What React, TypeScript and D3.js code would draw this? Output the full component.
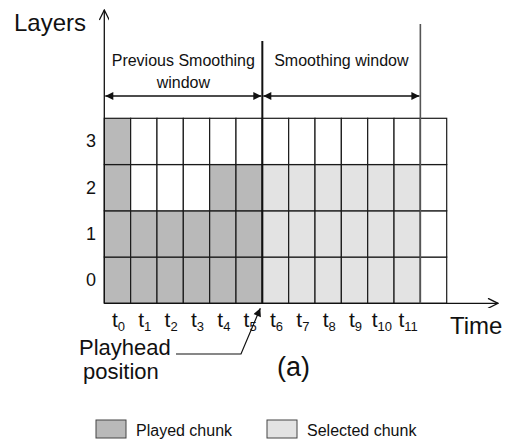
import React from "react";
import * as d3 from "d3";

const timeSlots = ["0", "1", "2", "3", "4", "5", "6", "7", "8", "9", "10", "11"];
const columns = [...timeSlots, "extra"];
const layers = ["0", "1", "2", "3"];
// highest layer played for t0..t5
const playedTop = [3, 1, 1, 1, 2, 2];
// highest layer selected for t6..t11
const selectedTop = [2, 2, 2, 2, 2, 2];
const prevWindow = ["0", "5"];
const smoothWindow = ["6", "11"];
const legendItems = ["Played chunk", "Selected chunk"];

const W = 510;
const H = 441;
const PLAYED = "#b9b9b9";
const SELECTED = "#e3e3e3";
const FONT = "'Liberation Sans', Arial, Helvetica, sans-serif";

export default function App() {
  const x = d3.scaleBand<string>().domain(columns).range([104.3, 446.7]).paddingInner(0);
  const y = d3.scaleBand<string>().domain(layers).range([303.3, 118.3]).paddingInner(0);
  const bw = x.bandwidth();
  const bh = y.bandwidth();
  const gridLeft = x.range()[0];
  const gridBottom = y.range()[0];

  const cells: { c: string; l: string; fill: string }[] = [];
  columns.forEach((c, ci) => {
    layers.forEach((l, li) => {
      let fill = "#ffffff";
      if (ci < playedTop.length && li <= playedTop[ci]) fill = PLAYED;
      const si = ci - playedTop.length;
      if (si >= 0 && si < selectedTop.length && li <= selectedTop[si]) fill = SELECTED;
      cells.push({ c, l, fill });
    });
  });

  const pwL = x(prevWindow[0])!;
  const pwR = x(prevWindow[1])! + bw;
  const swL = x(smoothWindow[0])!;
  const swR = x(smoothWindow[1])! + bw;
  const arrowY = 96;

  const leader = d3.line()([
    [176, 354],
    [241, 354],
    [pwR - 2, gridBottom + 5],
  ]);

  return (
    <svg width={W} height={H} style={{ position: "absolute", left: 0, top: 0, background: "#fff" }} fontFamily={FONT}>
      <defs>
        <marker id="tri" viewBox="0 0 10 10" refX="10" refY="5" markerWidth="12" markerHeight="8" markerUnits="userSpaceOnUse" orient="auto-start-reverse">
          <path d="M0,0 L10,5 L0,10 z" fill="#111" />
        </marker>
        <marker id="chev" viewBox="0 0 10 10" refX="10" refY="5" markerWidth="12" markerHeight="10" markerUnits="userSpaceOnUse" orient="auto">
          <path d="M0,0 L10,5 L0,10" fill="none" stroke="#111" strokeWidth="1.3" />
        </marker>
      </defs>

      {cells.map((d, i) => (
        <rect key={i} x={x(d.c)} y={y(d.l)} width={bw} height={bh} fill={d.fill} stroke="#1a1a1a" strokeWidth={1.2} />
      ))}

      {/* axes */}
      <line x1={gridLeft} y1={gridBottom} x2={gridLeft} y2={10} stroke="#111" strokeWidth={1.3} markerEnd="url(#chev)" />
      <line x1={gridLeft} y1={gridBottom} x2={498} y2={gridBottom} stroke="#111" strokeWidth={1.3} markerEnd="url(#chev)" />

      {/* window boundaries */}
      <line x1={swL} y1={41} x2={swL} y2={gridBottom} stroke="#111" strokeWidth={2} />
      <line x1={swR} y1={24} x2={swR} y2={gridBottom} stroke="#555" strokeWidth={1.6} />

      {/* window arrows */}
      <line x1={pwL + 1} y1={arrowY} x2={pwR - 1} y2={arrowY} stroke="#111" strokeWidth={1.3} markerStart="url(#tri)" markerEnd="url(#tri)" />
      <line x1={swL + 1} y1={arrowY} x2={swR - 1} y2={arrowY} stroke="#111" strokeWidth={1.3} markerStart="url(#tri)" markerEnd="url(#tri)" />

      <text x={14} y={31} fontSize={24} fill="#111">Layers</text>
      <text x={(pwL + pwR) / 2} y={66} fontSize={16} textAnchor="middle" fill="#111">Previous Smoothing</text>
      <text x={(pwL + pwR) / 2} y={88} fontSize={16} textAnchor="middle" fill="#111">window</text>
      <text x={(swL + swR) / 2} y={66} fontSize={16} textAnchor="middle" fill="#111">Smoothing window</text>

      {layers.map((l) => (
        <text key={l} x={91} y={y(l)! + bh / 2} fontSize={18} textAnchor="middle" dominantBaseline="central" fill="#111">{l}</text>
      ))}

      {timeSlots.map((t) => (
        <text key={t} x={x(t)! + bw / 2 + 1} y={327} fontSize={21} textAnchor="middle" fill="#111">
          t<tspan fontSize={13} dy={4}>{t}</tspan>
        </text>
      ))}

      <text x={450} y={334} fontSize={24} fill="#111">Time</text>

      <path d={leader!} fill="none" stroke="#111" strokeWidth={1.2} markerEnd="url(#tri)" />
      <text x={79} y={355} fontSize={22} fill="#111">Playhead</text>
      <text x={83} y={379} fontSize={22} fill="#111">position</text>
      <text x={277} y={376} fontSize={27} fill="#111">(a)</text>

      {legendItems.map((name, i) => (
        <g key={name} transform={`translate(${i === 0 ? 96 : 267},420)`}>
          <rect width={30} height={18} fill={i === 0 ? PLAYED : SELECTED} stroke="#444" strokeWidth={1} />
          <text x={40} y={16} fontSize={16} fill="#111">{name}</text>
        </g>
      ))}
    </svg>
  );
}
